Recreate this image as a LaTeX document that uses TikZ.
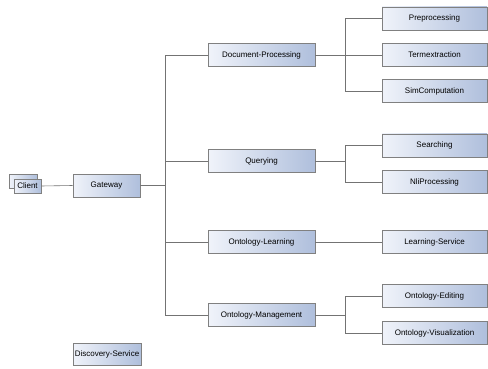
\documentclass[tikz,border=0pt]{standalone}
\usepackage{fontspec}
\setmainfont{Liberation Sans}
\begin{document}
\begin{tikzpicture}[x=1pt,y=-1pt,
  box/.style={draw=black!50, line width=0.6pt, left color=boxL, right color=boxR,
    inner sep=0pt, font=\fontsize{8}{9}\selectfont, anchor=center},
  midbox/.style={box, minimum width=107pt, minimum height=23pt},
  rbox/.style={box, minimum width=105pt, minimum height=23pt},
  conn/.style={draw=black!55, line width=0.6pt}]
\definecolor{boxL}{HTML}{F0F3FA}
\definecolor{boxR}{HTML}{AFBFDC}
\useasboundingbox (0,0) rectangle (488,369);
% client
\node[box, minimum width=28pt, minimum height=14pt] (clb) at (23,181) {};
\node[box, minimum width=27pt, minimum height=14pt] (cl) at (27.5,186) {Client};
\node[box, minimum width=67pt, minimum height=23pt] (gw) at (106.5,185.5) {Gateway};
\node[box, minimum width=68pt, minimum height=22pt] (ds) at (107,354.5) {Discovery-Service};
% middle column
\node[midbox] (dp) at (261.5,55) {Document-Processing};
\node[midbox] (q)  at (261.5,161) {Querying};
\node[midbox] (ol) at (261.5,242) {Ontology-Learning};
\node[midbox] (om) at (261.5,315) {Ontology-Management};
% right column
\node[rbox] (pre) at (434.5,18.5) {Preprocessing};
\node[rbox] (te)  at (434.5,55) {Termextraction};
\node[rbox] (sc)  at (434.5,91) {SimComputation};
\node[rbox] (se)  at (434.5,145.5) {Searching};
\node[rbox] (nl)  at (434.5,182) {NliProcessing};
\node[rbox] (ls)  at (434.5,242) {Learning-Service};
\node[rbox] (oe)  at (434.5,296) {Ontology-Editing};
\node[rbox] (ov)  at (434.5,333) {Ontology-Visualization};
% connectors
\draw[conn] (cl.east) -- (gw.west);
\draw[conn] (gw.east) -- ++(25,0) coordinate (T);
\draw[conn] (T) |- (dp.west);
\draw[conn] (T) |- (q.west);
\draw[conn] (T) |- (ol.west);
\draw[conn] (T) |- (om.west);
\draw[conn] (dp.east) -- ++(30,0) coordinate (B1);
\draw[conn] (B1) |- (pre.west);
\draw[conn] (B1) |- (te.west);
\draw[conn] (B1) |- (sc.west);
\draw[conn] (q.east) -- ++(30,0) coordinate (B2);
\draw[conn] (B2) |- (se.west);
\draw[conn] (B2) |- (nl.west);
\draw[conn] (ol.east) -- (ls.west);
\draw[conn] (om.east) -- ++(30,0) coordinate (B4);
\draw[conn] (B4) |- (oe.west);
\draw[conn] (B4) |- (ov.west);
\end{tikzpicture}
\end{document}
